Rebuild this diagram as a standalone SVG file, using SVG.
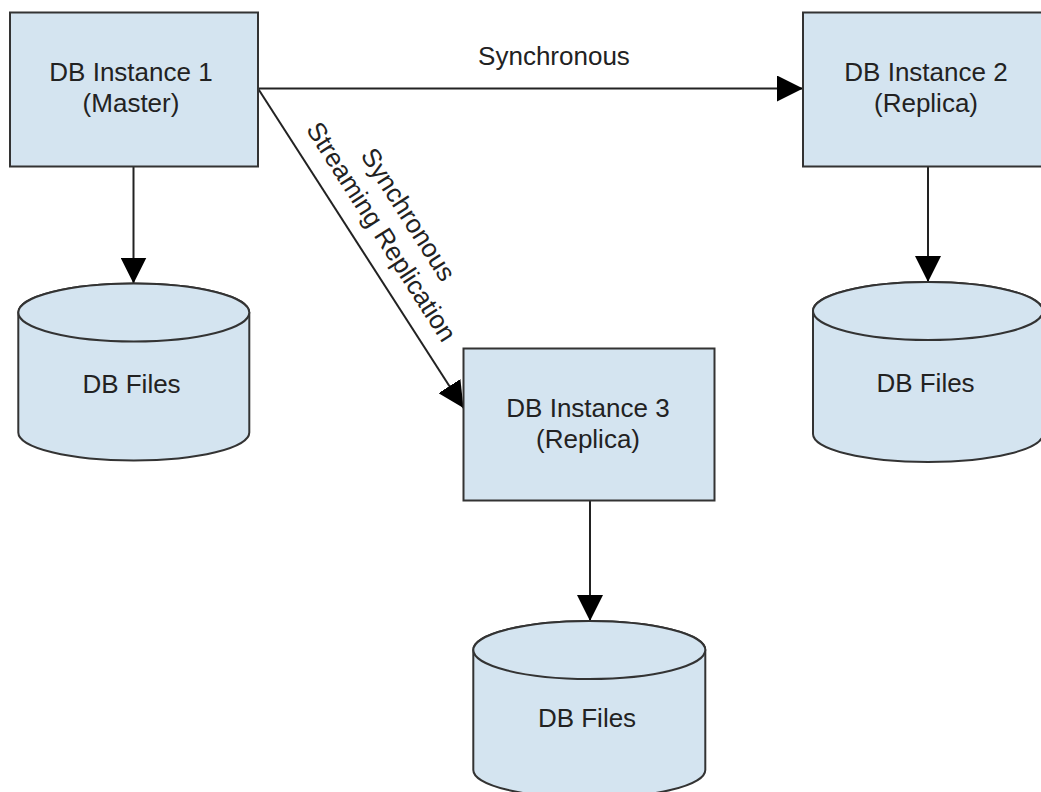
<svg xmlns="http://www.w3.org/2000/svg" width="1041" height="792" viewBox="0 0 1041 792">
  <style>
    .box { fill: #d4e4f0; stroke: #333333; stroke-width: 2; }
    .cyl { fill: #d4e4f0; stroke: #333333; stroke-width: 2; }
    .lbl { font-family: "Liberation Sans", Arial, sans-serif; font-size: 26px; fill: #222222; text-anchor: middle; }
    .conn { stroke: #222222; stroke-width: 2; fill: none; }
  </style>
  <defs>
    <marker id="arrow" markerUnits="userSpaceOnUse" markerWidth="26" markerHeight="26" refX="26" refY="13" orient="auto" viewBox="0 0 26 26">
      <path d="M0,0 L26,13 L0,26 Z" fill="#000000"/>
    </marker>
  </defs>
  <rect width="1041" height="792" fill="#ffffff"/>

  <g id="connectors">
    <line class="conn" x1="258" y1="88.5" x2="803" y2="88.5" marker-end="url(#arrow)"/>
    <line class="conn" x1="258" y1="88.5" x2="463.5" y2="408" marker-end="url(#arrow)"/>
    <line class="conn" x1="133.5" y1="166.5" x2="133.5" y2="283.5" marker-end="url(#arrow)"/>
    <line class="conn" x1="928" y1="166.5" x2="928" y2="282" marker-end="url(#arrow)"/>
    <line class="conn" x1="590" y1="500.5" x2="590" y2="621" marker-end="url(#arrow)"/>
    <text class="lbl" x="554" y="65">Synchronous</text>
    <g transform="translate(395,223) rotate(57.4)">
      <text class="lbl" x="0" y="-7">Synchronous</text>
      <text class="lbl" x="0" y="25">Streaming Replication</text>
    </g>
  </g>

  <g id="db1">
    <rect class="box" x="10" y="12.5" width="248" height="154"/>
    <text class="lbl" x="131" y="80.5">DB Instance 1</text>
    <text class="lbl" x="131" y="111.5">(Master)</text>
  </g>

  <g id="db2">
    <rect class="box" x="803" y="12.5" width="250" height="154"/>
    <text class="lbl" x="926" y="80.5">DB Instance 2</text>
    <text class="lbl" x="926" y="111.5">(Replica)</text>
  </g>

  <g id="db3">
    <rect class="box" x="463.5" y="348.5" width="251" height="152"/>
    <text class="lbl" x="588" y="417">DB Instance 3</text>
    <text class="lbl" x="588" y="448">(Replica)</text>
  </g>

  <g id="files1">
    <path class="cyl" d="M18.3,312.5 L18.3,432.5 A115.5,28 0 0 0 249.3,432.5 L249.3,312.5 A115.5,29 0 0 0 18.3,312.5 Z"/>
    <ellipse class="cyl" cx="133.8" cy="312.5" rx="115.5" ry="29"/>
    <text class="lbl" x="131.5" y="393">DB Files</text>
  </g>

  <g id="files2">
    <path class="cyl" d="M813,311 L813,434 A115,28 0 0 0 1043,434 L1043,311 A115,29 0 0 0 813,311 Z"/>
    <ellipse class="cyl" cx="928" cy="311" rx="115" ry="29"/>
    <text class="lbl" x="925.5" y="392">DB Files</text>
  </g>

  <g id="files3">
    <path class="cyl" d="M473.3,650 L473.3,770 A116,28 0 0 0 705.3,770 L705.3,650 A116,29 0 0 0 473.3,650 Z"/>
    <ellipse class="cyl" cx="589.3" cy="650" rx="116" ry="29"/>
    <text class="lbl" x="587" y="727">DB Files</text>
  </g>
</svg>
